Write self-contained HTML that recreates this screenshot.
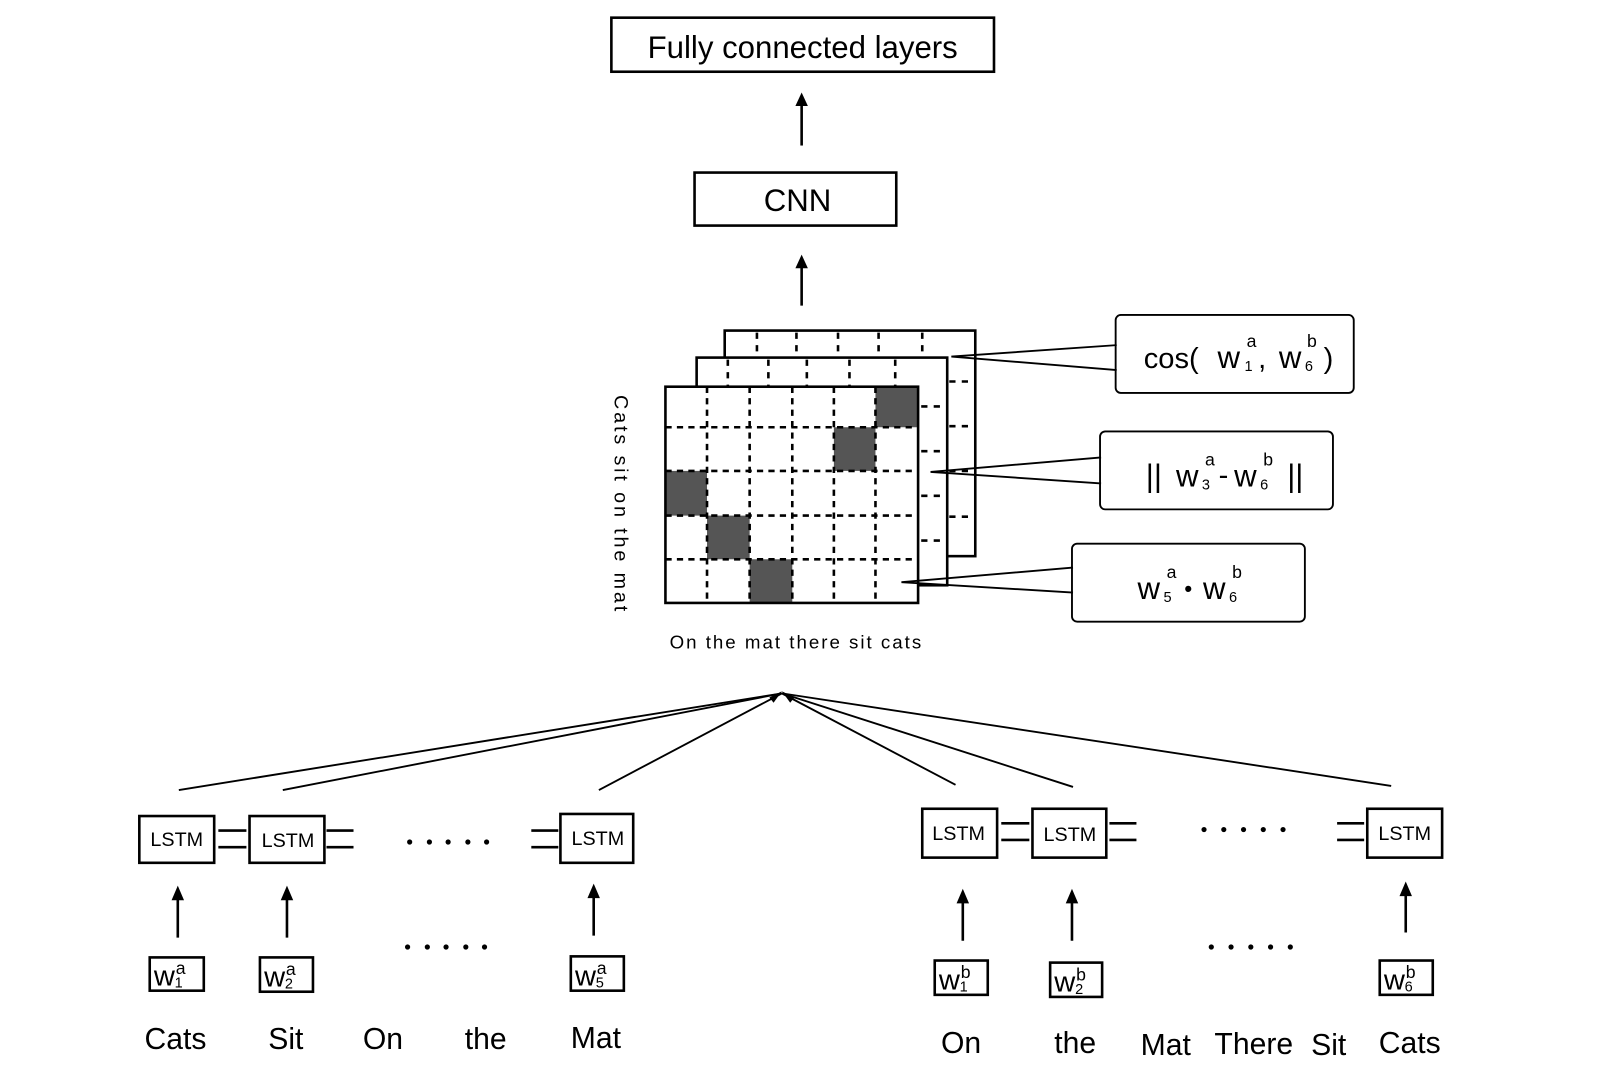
<!DOCTYPE html>
<html><head><meta charset="utf-8"><style>
html,body{margin:0;padding:0;background:#fff;}
svg{display:block;}
text{font-family:"Liberation Sans",Arial,sans-serif;fill:#000;}
</style></head><body>
<svg width="1622" height="1078" viewBox="0 0 1560 1037" preserveAspectRatio="none" xmlns="http://www.w3.org/2000/svg">
<g stroke="#000" fill="none" stroke-width="2.5">
<rect x="588" y="17" width="368" height="52"/>
<rect x="668" y="166" width="194" height="51"/>
</g>
<text x="772" y="56" font-size="30" text-anchor="middle">Fully connected layers</text>
<text x="767" y="203" font-size="30" text-anchor="middle">CNN</text>
<g stroke="#000" stroke-width="2.5">
<line x1="771" y1="140" x2="771" y2="94"/>
<path d="M765,102 L771,89 L777,102 Z" fill="#000" stroke="none"/>
<line x1="771" y1="294" x2="771" y2="250"/>
<path d="M765,258 L771,245 L777,258 Z" fill="#000" stroke="none"/>
</g>
<rect x="697" y="318" width="241" height="217" fill="#fff" stroke="#000" stroke-width="2.5"/>
<g stroke="#000" stroke-width="2.5" stroke-dasharray="6,6">
<line x1="728" y1="320" x2="728" y2="344"/><line x1="766" y1="320" x2="766" y2="344"/><line x1="806" y1="320" x2="806" y2="344"/><line x1="845" y1="320" x2="845" y2="344"/><line x1="887" y1="320" x2="887" y2="344"/>
<line x1="913" y1="367" x2="936" y2="367"/><line x1="913" y1="410" x2="936" y2="410"/><line x1="913" y1="453" x2="936" y2="453"/><line x1="913" y1="497" x2="936" y2="497"/>
</g>
<rect x="670" y="344" width="241" height="219" fill="#fff" stroke="#000" stroke-width="2.5"/>
<g stroke="#000" stroke-width="2.5" stroke-dasharray="6,6">
<line x1="700" y1="346" x2="700" y2="372"/><line x1="739" y1="346" x2="739" y2="372"/><line x1="776" y1="346" x2="776" y2="372"/><line x1="817" y1="346" x2="817" y2="372"/><line x1="861" y1="346" x2="861" y2="372"/>
<line x1="886" y1="391" x2="909" y2="391"/><line x1="886" y1="434" x2="909" y2="434"/><line x1="886" y1="477" x2="909" y2="477"/><line x1="886" y1="520" x2="909" y2="520"/>
</g>
<rect x="640" y="372" width="243" height="208" fill="#fff"/>
<g fill="#555">
<rect x="842" y="372" width="41" height="39"/>
<rect x="802" y="411" width="40" height="42"/>
<rect x="640" y="453" width="40" height="43"/>
<rect x="680" y="496" width="41" height="42"/>
<rect x="721" y="538" width="41" height="42"/>
</g>
<g stroke="#000" stroke-width="2.5" stroke-dasharray="6,5">
<line x1="680" y1="372" x2="680" y2="580"/><line x1="721" y1="372" x2="721" y2="580"/><line x1="762" y1="372" x2="762" y2="580"/><line x1="802" y1="372" x2="802" y2="580"/><line x1="842" y1="372" x2="842" y2="580"/>
<line x1="640" y1="411" x2="883" y2="411"/><line x1="640" y1="453" x2="883" y2="453"/><line x1="640" y1="496" x2="883" y2="496"/><line x1="640" y1="538" x2="883" y2="538"/>
</g>
<rect x="640" y="372" width="243" height="208" fill="none" stroke="#000" stroke-width="2.5"/>
<text transform="translate(591,380) rotate(90)" font-size="19" textLength="208" lengthAdjust="spacing">Cats  sit  on  the  mat</text>
<text x="644" y="624" font-size="18" textLength="242" lengthAdjust="spacing">On the mat there sit cats</text>
<g stroke="#000" stroke-width="1.8" fill="#fff">
<rect x="1073" y="303" width="229" height="75" rx="5"/>
<rect x="1058" y="415" width="224" height="75" rx="5"/>
<rect x="1031" y="523" width="224" height="75" rx="5"/>
<polyline points="1074,332 915,343 1074,356" fill="none"/>
<polyline points="1059,440 895,454 1059,465" fill="none"/>
<polyline points="1032,546 867,560 1032,570" fill="none"/>
</g>
<g font-size="28">
<text x="1100" y="354">cos(</text>
<text x="1171" y="354" font-size="30">w</text><text x="1199" y="334" font-size="17">a</text><text x="1197" y="357" font-size="14">1</text>
<text x="1210" y="354">,</text>
<text x="1230" y="354" font-size="30">w</text><text x="1257" y="334" font-size="17">b</text><text x="1255" y="357" font-size="14">6</text>
<text x="1273" y="354">)</text>
<text x="1102" y="468" font-size="30">||</text>
<text x="1131" y="468" font-size="30">w</text><text x="1159" y="448" font-size="17">a</text><text x="1156" y="471" font-size="14">3</text>
<text x="1172" y="466">-</text>
<text x="1187" y="468" font-size="30">w</text><text x="1215" y="448" font-size="17">b</text><text x="1212" y="471" font-size="14">6</text>
<text x="1238" y="468" font-size="30">||</text>
<text x="1094" y="576" font-size="30">w</text><text x="1122" y="556" font-size="17">a</text><text x="1119" y="579" font-size="14">5</text>
<text x="1139" y="574" font-size="22">•</text>
<text x="1157" y="576" font-size="30">w</text><text x="1185" y="556" font-size="17">b</text><text x="1182" y="579" font-size="14">6</text>
</g>
<g stroke="#000" stroke-width="1.8">
<line x1="172" y1="760" x2="752" y2="667"/>
<line x1="272" y1="760" x2="752" y2="667"/>
<line x1="576" y1="760" x2="752" y2="667"/>
<line x1="919" y1="755" x2="752" y2="667"/>
<line x1="1032" y1="757" x2="752" y2="667"/>
<line x1="1338" y1="756" x2="752" y2="667"/>
</g>
<path d="M740,671 L752,665 L744,676 Z" fill="#000"/>
<path d="M764,671 L752,665 L760,676 Z" fill="#000"/>
<g stroke="#000" stroke-width="2.5" fill="none">
<rect x="134" y="785" width="72" height="45"/>
<rect x="240" y="785" width="72" height="45"/>
<rect x="539" y="783" width="70" height="47"/>
<rect x="887" y="778" width="72" height="47"/>
<rect x="993" y="778" width="71" height="47"/>
<rect x="1315" y="778" width="72" height="47"/>
<path d="M210,799 H237 M210,815 H237 M314,799 H340 M314,815 H340 M511,799 H537 M511,815 H537"/>
<path d="M963,792 H990 M963,808 H990 M1067,792 H1093 M1067,808 H1093 M1286,792 H1312 M1286,808 H1312"/>
<rect x="144" y="921" width="52" height="32"/>
<rect x="250" y="921" width="51" height="33"/>
<rect x="549" y="920" width="51" height="33"/>
<rect x="899" y="924" width="51" height="33"/>
<rect x="1010" y="926" width="50" height="33"/>
<rect x="1327" y="924" width="51" height="33"/>
<path d="M171,902 V864 M276,902 V864 M571,900 V862 M926,905 V867 M1031,905 V867 M1352,897 V860"/>
</g>
<g fill="#000">
<path d="M165,866 L171,852 L177,866 Z M270,866 L276,852 L282,866 Z M565,864 L571,850 L577,864 Z M920,869 L926,855 L932,869 Z M1025,869 L1031,855 L1037,869 Z M1346,862 L1352,848 L1358,862 Z"/>
</g>
<g font-size="19">
<text x="170" y="814" text-anchor="middle">LSTM</text>
<text x="277" y="815" text-anchor="middle">LSTM</text>
<text x="575" y="813" text-anchor="middle">LSTM</text>
<text x="922" y="808" text-anchor="middle">LSTM</text>
<text x="1029" y="809" text-anchor="middle">LSTM</text>
<text x="1351" y="808" text-anchor="middle">LSTM</text>
</g>
<g font-size="28">
<text x="148" y="948">w</text><text x="169" y="937" font-size="17">a</text><text x="168" y="950" font-size="14">1</text>
<text x="254" y="949">w</text><text x="275" y="938" font-size="17">a</text><text x="274" y="951" font-size="14">2</text>
<text x="553" y="948">w</text><text x="574" y="937" font-size="17">a</text><text x="573" y="950" font-size="14">5</text>
<text x="903" y="952">w</text><text x="924" y="941" font-size="17">b</text><text x="923" y="954" font-size="14">1</text>
<text x="1014" y="954">w</text><text x="1035" y="943" font-size="17">b</text><text x="1034" y="956" font-size="14">2</text>
<text x="1331" y="952">w</text><text x="1352" y="941" font-size="17">b</text><text x="1351" y="954" font-size="14">6</text>
</g>
<g fill="#000">
<circle cx="394" cy="810" r="2.5"/><circle cx="413" cy="810" r="2.5"/><circle cx="431" cy="810" r="2.5"/><circle cx="450" cy="810" r="2.5"/><circle cx="468" cy="810" r="2.5"/>
<circle cx="392" cy="911" r="2.5"/><circle cx="411" cy="911" r="2.5"/><circle cx="429" cy="911" r="2.5"/><circle cx="448" cy="911" r="2.5"/><circle cx="466" cy="911" r="2.5"/>
<circle cx="1158" cy="798" r="2.5"/><circle cx="1177" cy="798" r="2.5"/><circle cx="1196" cy="798" r="2.5"/><circle cx="1215" cy="798" r="2.5"/><circle cx="1234" cy="798" r="2.5"/>
<circle cx="1165" cy="911" r="2.5"/><circle cx="1184" cy="911" r="2.5"/><circle cx="1203" cy="911" r="2.5"/><circle cx="1222" cy="911" r="2.5"/><circle cx="1241" cy="911" r="2.5"/>
</g>
<g font-size="29">
<text x="139" y="1009">Cats</text>
<text x="258" y="1009">Sit</text>
<text x="349" y="1009">On</text>
<text x="447" y="1009">the</text>
<text x="549" y="1008">Mat</text>
<text x="905" y="1013">On</text>
<text x="1014" y="1013">the</text>
<text x="1097" y="1015">Mat</text>
<text x="1168" y="1014">There</text>
<text x="1261" y="1015">Sit</text>
<text x="1326" y="1013">Cats</text>
</g>
</svg>
</body></html>
